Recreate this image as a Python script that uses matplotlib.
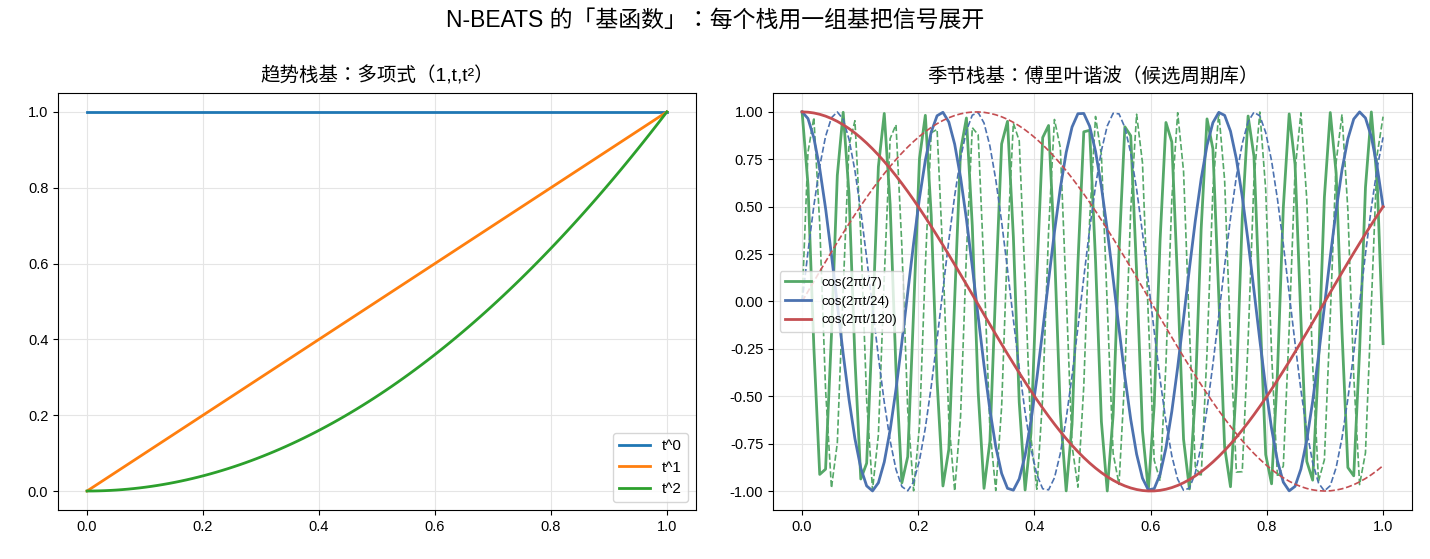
import numpy as np
import matplotlib
matplotlib.use("Agg")
import matplotlib.pyplot as plt

plt.rcParams['font.family'] = ['Liberation Sans', 'Noto Sans CJK TC', 'DejaVu Sans']
plt.rcParams['axes.unicode_minus'] = False

# 数据
horizon = 100
degrees = [0, 1, 2]
trend_labels = ["t^0", "t^1", "t^2"]
periods = [7, 24, 120]
season_labels = ["cos(2πt/7)", "cos(2πt/24)", "cos(2πt/120)"]
season_colors = ["#55A868", "#4C72B0", "#C44E52"]

t = np.linspace(0, 1, horizon)

fig = plt.figure(figsize=(14.3, 5.59), dpi=100)
ax1 = fig.add_axes([0.0406, 0.0877, 0.446, 0.746])
ax2 = fig.add_axes([0.5406, 0.0877, 0.4469, 0.746])
fig.suptitle("N-BEATS 的「基函数」：每个栈用一组基把信号展开", fontsize=16.5, y=0.985)

for d, lab in zip(degrees, trend_labels):
    ax1.plot(t, t ** d, lw=2, label=lab)
ax1.set_title("趋势栈基：多项式（1,t,t²）", fontsize=14, pad=8)
ax1.legend(loc="lower right", fontsize=11)

for p, lab, c in zip(periods, season_labels, season_colors):
    ax2.plot(t, np.cos(2 * np.pi * horizon * t / p), color=c, lw=2, label=lab)
    ax2.plot(t, np.sin(2 * np.pi * horizon * t / p), color=c, lw=1.2, ls="--")
ax2.set_title("季节栈基：傅里叶谐波（候选周期库）", fontsize=14, pad=8)
ax2.legend(loc="center left", fontsize=9.5)

for a in (ax1, ax2):
    a.grid(True, color="#e5e5e5", lw=0.8)
    a.tick_params(labelsize=10.5)

fig.savefig("out.png", dpi=100)
